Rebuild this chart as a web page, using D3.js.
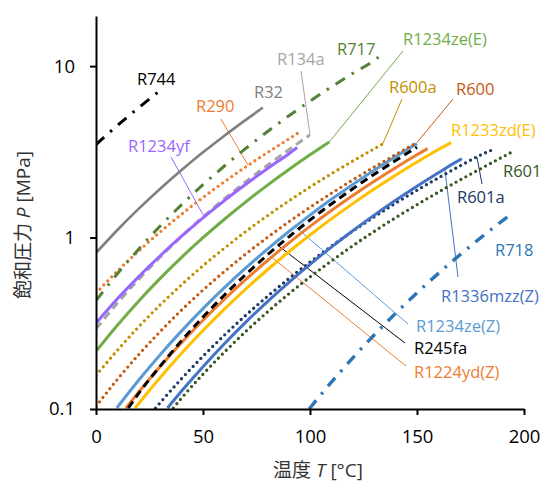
<!DOCTYPE html>
<html>
<head>
<meta charset="utf-8">
<script src="https://cdn.jsdelivr.net/npm/d3@7"></script>
<style>
  html, body { margin: 0; padding: 0; background: #fff; }
  svg text { font-family: "Open Sans", "Noto Sans CJK JP", sans-serif; }
</style>
</head>
<body>
<svg id="chart" width="543" height="487"></svg>
<script>
// Saturation pressure P [MPa] against temperature T [°C]
const tR744 = [0, 5, 10, 15, 20, 25, 30, 31];
const pR744 = [3.485, 3.969, 4.502, 5.086, 5.729, 6.434, 7.214, 7.377];

const tR32 = [0, 10, 20, 30, 40, 50, 60, 70, 78];
const pR32 = [0.813, 1.107, 1.474, 1.927, 2.478, 3.140, 3.928, 4.859, 5.73];

const tR134a = [0, 10, 20, 30, 40, 50, 60, 70, 80, 90, 100];
const pR134a = [0.293, 0.415, 0.572, 0.770, 1.017, 1.318, 1.682, 2.117, 2.633, 3.244, 3.972];

const tR1234yf = [0, 10, 20, 30, 40, 50, 60, 70, 80, 90, 94];
const pR1234yf = [0.316, 0.439, 0.592, 0.783, 1.018, 1.302, 1.642, 2.045, 2.519, 3.075, 3.35];

const tR290 = [0, 10, 20, 30, 40, 50, 60, 70, 80, 90, 95];
const pR290 = [0.474, 0.637, 0.836, 1.079, 1.369, 1.713, 2.116, 2.585, 3.127, 3.754, 4.12];

const tR717 = [0, 10, 20, 30, 40, 50, 60, 70, 80, 90, 100, 110, 120, 130, 132];
const pR717 = [0.429, 0.615, 0.858, 1.167, 1.555, 2.033, 2.614, 3.312, 4.142, 5.116, 6.252, 7.564, 9.071, 10.79, 11.28];

const tR1234zeE = [0, 10, 20, 30, 40, 50, 60, 70, 80, 90, 100, 109];
const pR1234zeE = [0.217, 0.308, 0.427, 0.578, 0.767, 0.998, 1.279, 1.616, 2.015, 2.486, 3.037, 3.61];

const tR600a = [0, 10, 20, 30, 40, 50, 60, 70, 80, 90, 100, 110, 120, 130, 134];
const pR600a = [0.157, 0.220, 0.302, 0.405, 0.531, 0.685, 0.868, 1.085, 1.339, 1.632, 1.970, 2.356, 2.795, 3.296, 3.52];

const tR600 = [0, 10, 20, 30, 40, 50, 60, 70, 80, 90, 100, 110, 120, 130, 140, 150];
const pR600 = [0.1035, 0.149, 0.208, 0.283, 0.378, 0.494, 0.634, 0.802, 1.000, 1.233, 1.502, 1.813, 2.169, 2.577, 3.045, 3.588];

const tR1234zeZ = [9.7, 20, 30, 40, 50, 60, 70, 80, 90, 100, 110, 120, 130, 140, 150];
const pR1234zeZ = [0.1013, 0.1476, 0.2075, 0.2855, 0.3852, 0.5101, 0.6649, 0.8536, 1.081, 1.352, 1.671, 2.042, 2.472, 2.966, 3.53];

const tR245fa = [15.1, 20, 30, 40, 50, 60, 70, 80, 90, 100, 110, 120, 130, 140, 150];
const pR245fa = [0.1013, 0.1237, 0.1779, 0.2505, 0.3439, 0.4625, 0.6098, 0.7900, 1.0069, 1.2656, 1.5702, 1.926, 2.338, 2.814, 3.363];

const tR1224ydZ = [14, 20, 30, 40, 50, 60, 70, 80, 90, 100, 110, 120, 130, 140, 150, 155];
const pR1224ydZ = [0.1013, 0.1258, 0.1771, 0.2439, 0.3295, 0.4368, 0.5700, 0.7322, 0.9281, 1.1617, 1.4366, 1.7576, 2.129, 2.555, 3.041, 3.30];

const tR1233zdE = [18.3, 20, 30, 40, 50, 60, 70, 80, 90, 100, 110, 120, 130, 140, 150, 160, 166];
const pR1233zdE = [0.1013, 0.1077, 0.1526, 0.2112, 0.2869, 0.3823, 0.5012, 0.6468, 0.8237, 1.0346, 1.2850, 1.5774, 1.9177, 2.3094, 2.7566, 3.263, 3.58];

const tR1336mzzZ = [33.4, 40, 50, 60, 70, 80, 90, 100, 110, 120, 130, 140, 150, 160, 170, 171];
const pR1336mzzZ = [0.1013, 0.1273, 0.1766, 0.2402, 0.3210, 0.4221, 0.5463, 0.6976, 0.8799, 1.0962, 1.3511, 1.6489, 1.9929, 2.3874, 2.837, 2.88];

const tR601a = [27.8, 30, 40, 50, 60, 70, 80, 90, 100, 110, 120, 130, 140, 150, 160, 170, 180, 185];
const pR601a = [0.1013, 0.1090, 0.1503, 0.2032, 0.2697, 0.3521, 0.4527, 0.5743, 0.7189, 0.8901, 1.0894, 1.3205, 1.586, 1.888, 2.229, 2.613, 3.041, 3.24];

const tR601 = [36.1, 40, 50, 60, 70, 80, 90, 100, 110, 120, 130, 140, 150, 160, 170, 180, 190, 194];
const pR601 = [0.1013, 0.1159, 0.1596, 0.2147, 0.2834, 0.3672, 0.4684, 0.5888, 0.7305, 0.8957, 1.0866, 1.306, 1.556, 1.840, 2.163, 2.530, 2.952, 3.14];

const tR718 = [99.6, 110, 120, 130, 140, 150, 160, 170, 180, 190, 195];
const pR718 = [0.1, 0.1434, 0.1987, 0.2703, 0.3615, 0.4762, 0.6182, 0.7922, 1.0028, 1.2552, 1.398];

const xTicks = [0, 50, 100, 150, 200];
const yTicks = [0.1, 1, 10];

// line styles
const DASHDOT = "11,8,2.5,8";
const DASH = "8,5";
const DOT = "0,5.6";

const series = [
  { t: tR601,      p: pR601,      color: "#385723", dash: DOT },
  { t: tR601a,     p: pR601a,     color: "#203864", dash: DOT },
  { t: tR1336mzzZ, p: pR1336mzzZ, color: "#4472c4", dash: null },
  { t: tR718,      p: pR718,      color: "#2e75b6", dash: DASHDOT, width: 3.4 },
  { t: tR1233zdE,  p: pR1233zdE,  color: "#ffc000", dash: null },
  { t: tR1224ydZ,  p: pR1224ydZ,  color: "#ed7d31", dash: null },
  { t: tR1234zeZ,  p: pR1234zeZ,  color: "#5b9bd5", dash: null },
  { t: tR245fa,    p: pR245fa,    color: "#000000", dash: DASH },
  { t: tR600,      p: pR600,      color: "#c55a11", dash: DOT },
  { t: tR600a,     p: pR600a,     color: "#bf9000", dash: DOT },
  { t: tR1234zeE,  p: pR1234zeE,  color: "#70ad47", dash: null },
  { t: tR134a,     p: pR134a,     color: "#a5a5a5", dash: DASH },
  { t: tR1234yf,   p: pR1234yf,   color: "#9966ff", dash: null },
  { t: tR290,      p: pR290,      color: "#ed7d31", dash: DOT },
  { t: tR717,      p: pR717,      color: "#548235", dash: DASHDOT },
  { t: tR32,       p: pR32,       color: "#7f7f7f", dash: null, width: 2.6 },
  { t: tR744,      p: pR744,      color: "#000000", dash: DASHDOT }
];

// series labels: [text, colour, x, baseline, leader end (T, P) or null, leader start]
const labels = [
  ["R744",        "#000000", 137, 85,  null],
  ["R32",         "#7f7f7f", 254, 98,  null],
  ["R290",        "#ed7d31", 196, 112, [71, 2.65], [221, 119]],
  ["R1234yf",     "#9966ff", 128, 152, [50, 1.36], [171, 157]],
  ["R134a",       "#a5a5a5", 277, 65,  [100, 3.972], [301, 71]],
  ["R717",        "#548235", 337, 55,  null],
  ["R1234ze(E)",  "#70ad47", 403, 45,  [109, 3.61], [403, 51]],
  ["R600a",       "#bf9000", 389, 93,  [134, 3.52], [402, 99]],
  ["R600",        "#c55a11", 456, 95,  [150, 3.588], [453, 99]],
  ["R1233zd(E)",  "#ffc000", 451, 136, null],
  ["R601",        "#385723", 503, 177, null],
  ["R601a",       "#203864", 457, 203, [178, 2.95], [482, 184]],
  ["R718",        "#2e75b6", 495, 256, null],
  ["R1336mzz(Z)", "#4472c4", 441, 302, [163, 2.51], [458, 277]],
  ["R1234ze(Z)",  "#5b9bd5", 416, 332, [93, 1.16], [408, 324]],
  ["R245fa",      "#000000", 414, 354, [85, 0.90], [405, 343]],
  ["R1224yd(Z)",  "#ed7d31", 414, 378, [82, 0.77], [406, 366]]
];

const svg = d3.select("#chart");
const plotLeft = 96, plotRight = 524, plotTop = 16, plotBottom = 409;

const x = d3.scaleLinear().domain([0, 200]).range([plotLeft, plotRight]);
const y = d3.scaleLog().domain([0.1, 19.6]).range([plotBottom, plotTop]);

svg.append("defs").append("clipPath").attr("id", "plot")
  .append("rect").attr("x", plotLeft).attr("y", plotTop - 10)
  .attr("width", plotRight - plotLeft + 10).attr("height", plotBottom - plotTop + 10);

const line = d3.line()
  .x(d => x(d[0]))
  .y(d => y(d[1]))
  .curve(d3.curveMonotoneX);

// leader lines
const leaders = svg.append("g");
labels.forEach(([txt, col, lx, ly, end, start]) => {
  if (!end) return;
  leaders.append("line")
    .attr("x1", start[0]).attr("y1", start[1])
    .attr("x2", x(end[0])).attr("y2", y(end[1]))
    .attr("stroke", col).attr("stroke-width", 1);
});

// curves
const curves = svg.append("g").attr("clip-path", "url(#plot)");
series.forEach(s => {
  const pts = s.t.map((t, i) => [t, s.p[i]]);
  const path = curves.append("path")
    .attr("d", line(pts))
    .attr("fill", "none")
    .attr("stroke", s.color)
    .attr("stroke-width", s.width || 3);
  if (s.dash === DOT) {
    path.attr("stroke-dasharray", DOT).attr("stroke-linecap", "round").attr("stroke-width", 3.3);
  } else if (s.dash) {
    path.attr("stroke-dasharray", s.dash).attr("stroke-linecap", "butt");
  }
});

// axes
const yAxis = d3.axisLeft(y).tickValues(yTicks).tickFormat(d => String(d))
  .tickSize(6).tickSizeOuter(0).tickPadding(15);
const xAxis = d3.axisBottom(x).tickValues(xTicks).tickFormat(d => String(d))
  .tickSize(6).tickSizeOuter(0).tickPadding(15);

const gy = svg.append("g").attr("transform", `translate(${plotLeft},0)`).call(yAxis);
const gx = svg.append("g").attr("transform", `translate(0,${plotBottom})`).call(xAxis);
[gx, gy].forEach(g => {
  g.select(".domain").attr("stroke", "#000").attr("stroke-width", 2);
  g.selectAll(".tick line").attr("stroke", "#000").attr("stroke-width", 2);
  g.selectAll(".tick text").attr("fill", "#000")
    .style("font-size", "18.5px").style("font-family", "'Open Sans', sans-serif");
});

// series labels
const lab = svg.append("g");
labels.forEach(([txt, col, lx, ly]) => {
  lab.append("text").attr("x", lx).attr("y", ly)
    .attr("fill", col).style("font-size", "16.5px").text(txt);
});

// axis titles
const xt = svg.append("text").attr("x", 318).attr("y", 477)
  .attr("text-anchor", "middle").attr("fill", "#333").style("font-size", "19px");
xt.append("tspan").text("温度 ");
xt.append("tspan").style("font-style", "italic").text("T");
xt.append("tspan").text(" [°C]");

const yt = svg.append("text").attr("transform", "translate(30,225) rotate(-90)")
  .attr("text-anchor", "middle").attr("fill", "#333").style("font-size", "19px");
yt.append("tspan").text("飽和圧力 ");
yt.append("tspan").style("font-style", "italic").text("P");
yt.append("tspan").text(" [MPa]");
</script>
</body>
</html>
